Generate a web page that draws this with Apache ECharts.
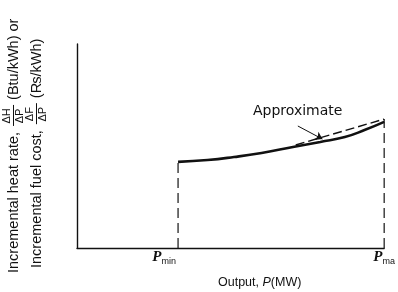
<!DOCTYPE html>
<html>
<head>
<meta charset="utf-8">
<script src="https://cdn.jsdelivr.net/npm/echarts@6/dist/echarts.min.js"></script>
<style>
  html, body { margin: 0; padding: 0; background: #fff; }
  #chart { width: 398px; height: 292px; }
</style>
</head>
<body>
<div id="chart"></div>
<script>
// 数据 (x: 0..100 = 0..Pmax, y: 0..100)
var pMin = 32.9;
var pMax = 100;
var curveX = [32.9, 42.5, 51.1, 60.1, 70.3, 79.2, 87.2, 93.6, 100];
var curveY = [42.2, 43.1, 44.6, 46.6, 49.5, 52.0, 54.4, 57.8, 61.8];
var approxX = [71.2, 100];
var approxY = [50.5, 63.2];
var arrowFrom = [71.9, 59.8];
var arrowTo = [79.9, 53.4];
var tickValues = [pMin, pMax];
var tickNames = ['min', 'ma'];

var font = 'Liberation Sans';
var ink = '#111';

function pairs(xs, ys) {
  return xs.map(function (x, i) { return [x, ys[i]]; });
}

// 量文字宽度
var measureCtx = document.createElement('canvas').getContext('2d');
function textWidth(str, f) {
  measureCtx.font = f;
  return measureCtx.measureText(str).width;
}

var myChart = echarts.init(document.getElementById('chart'));

// 旋转的纵轴标题 (带分式)
function yTitle(cx, cy, parts) {
  var children = [];
  var x = 0;
  var f = '14.5px ' + font;
  parts.forEach(function (p) {
    if (p.frac) {
      var ff = '11px ' + font;
      x += 4;
      children.push({ type: 'text', x: x + 10, y: -6, style: { text: p.frac[0], font: ff, fill: ink, align: 'center', verticalAlign: 'middle' } });
      children.push({ type: 'line', shape: { x1: x, y1: 0.5, x2: x + 21, y2: 0.5 }, style: { stroke: ink, lineWidth: 1 } });
      children.push({ type: 'text', x: x + 10, y: 7, style: { text: p.frac[1], font: ff, fill: ink, align: 'center', verticalAlign: 'middle' } });
      x += 26;
    } else {
      children.push({ type: 'text', x: x, y: 1, style: { text: p.text, font: f, fill: ink, align: 'left', verticalAlign: 'middle' } });
      x += textWidth(p.text, f) + 2;
    }
  });
  return { type: 'group', x: cx, y: cy, rotation: Math.PI / 2, children: children };
}

var option = {
  animation: false,
  backgroundColor: '#fff',
  grid: { left: 77, right: 8, top: 44, bottom: 44 },
  xAxis: {
    type: 'value',
    min: 0,
    max: 100,
    axisLine: { show: true, lineStyle: { color: ink, width: 1.4 } },
    axisTick: { show: false },
    splitLine: { show: false },
    axisLabel: {
      customValues: tickValues,
      margin: 1,
      formatter: function (v) {
        var i = tickValues.indexOf(v);
        return '{p|P}{' + (i === 0 ? 'sm' : 's') + '|' + tickNames[i] + '}';
      },
      rich: {
        p: { fontFamily: 'Liberation Serif', fontStyle: 'italic', fontWeight: 'bold', fontSize: 15, color: ink },
        s: { fontFamily: font, fontSize: 9, color: ink, padding: [8, 0, 0, 0] },
        sm: { fontFamily: font, fontSize: 9, color: ink, padding: [8, 28, 0, 0] }
      }
    }
  },
  yAxis: {
    type: 'value',
    min: 0,
    max: 100,
    axisLine: { show: true, lineStyle: { color: ink, width: 1.4 } },
    axisTick: { show: false },
    axisLabel: { show: false },
    splitLine: { show: false }
  },
  graphic: [
    yTitle(13, 273, [
      { text: 'Incremental heat rate,' },
      { frac: ['ΔH', 'ΔP'] },
      { text: '(Btu/kWh) or' }
    ]),
    yTitle(36, 268, [
      { text: 'Incremental fuel cost,' },
      { frac: ['ΔF', 'ΔP'] },
      { text: '(₨/kWh)' }
    ]),
    {
      type: 'text', left: 218, top: 276,
      style: {
        text: '{a|Output, }{b|P}{a|(MW)}',
        rich: {
          a: { fontFamily: font, fontSize: 12.5, fill: ink },
          b: { fontFamily: font, fontStyle: 'italic', fontSize: 12.5, fill: ink }
        }
      }
    },
    {
      type: 'text', left: 253, top: 104,
      style: { text: 'Approximate', font: '14px DejaVu Sans', fill: ink }
    }
  ],
  series: [
    {
      type: 'line',
      data: pairs(curveX, curveY),
      smooth: true,
      symbol: 'none',
      lineStyle: { color: ink, width: 2.6 }
    },
    {
      type: 'line',
      data: pairs(approxX, approxY),
      symbol: 'none',
      lineStyle: { color: ink, width: 1.4, type: [9, 4] }
    },
    {
      type: 'line',
      data: [[pMin, 0], [pMin, curveY[0]]],
      symbol: 'none',
      lineStyle: { color: ink, width: 1.2, type: [10, 5] }
    },
    {
      type: 'line',
      data: [[pMax, 0], [pMax, approxY[1]]],
      symbol: 'none',
      lineStyle: { color: ink, width: 1.2, type: [10, 5] }
    },
    {
      type: 'line',
      data: [],
      markLine: {
        silent: true,
        symbol: ['none', 'arrow'],
        symbolSize: 7,
        label: { show: false },
        lineStyle: { color: ink, width: 1, type: 'solid' },
        data: [[{ coord: arrowFrom }, { coord: arrowTo }]]
      }
    }
  ]
};

myChart.setOption(option);
</script>
</body>
</html>
